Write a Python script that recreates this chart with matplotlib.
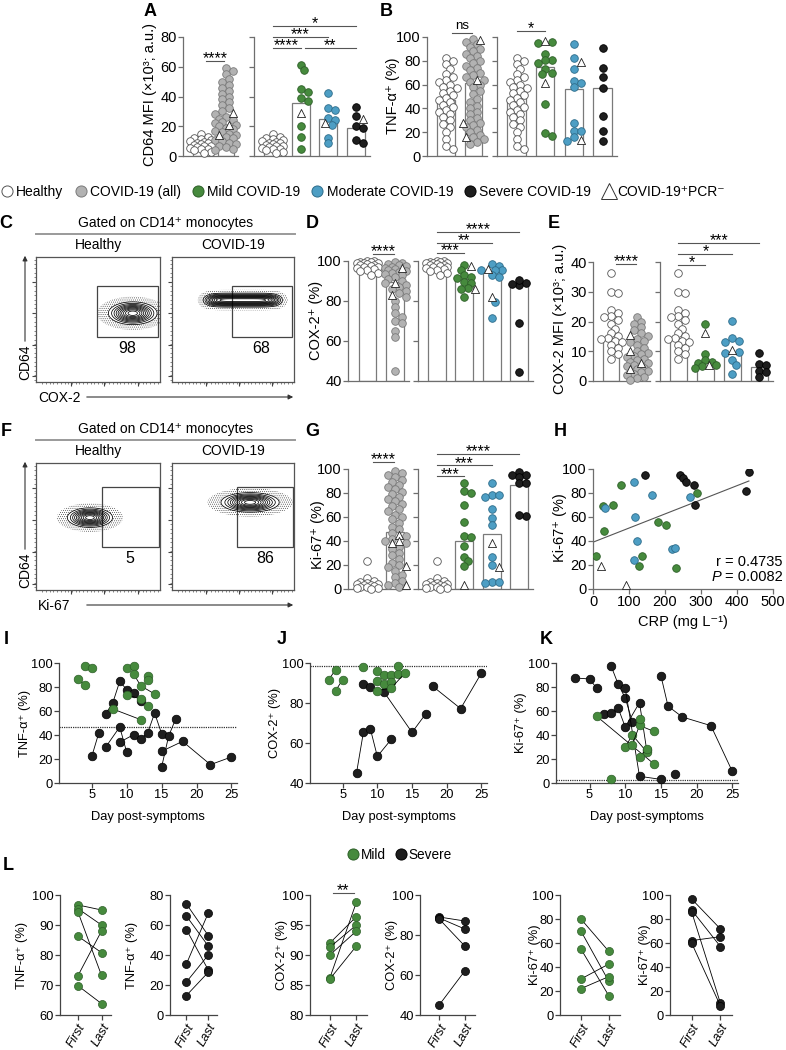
import numpy as np
import matplotlib
matplotlib.use("Agg")
import matplotlib.pyplot as plt
from matplotlib import font_manager
from matplotlib.lines import Line2D
from matplotlib.patches import Rectangle, FancyArrowPatch

# ============================================================
# DATA
# ============================================================
# A - CD64 MFI (x10^3; a.u.)
cd64Healthy = [14.5, 13, 12, 11.5, 11, 10, 9.5, 9, 8.5, 8, 7.5, 7, 6.5, 6, 5.5, 5, 4.5, 4, 3, 2]
cd64All = [59, 57, 55, 52, 50, 48, 46, 44, 42, 40, 38, 36, 34, 32, 30, 28, 26, 25, 24, 23,
           22, 21, 20, 19, 18, 17, 16, 15, 14, 13, 12, 11, 10, 9, 8, 7, 6, 5, 4]
cd64AllTri = [28.7, 21, 14]
cd64Mild, cd64MildTri = [61, 58, 45, 43, 39, 37, 20, 13, 5], [29]
cd64Mod, cd64ModTri = [42.6, 32, 31, 25.5, 24.5, 20.8, 12.3, 8.5], [22]
cd64Sev, cd64SevTri = [33, 27, 20, 19, 11, 8.5], [24.7]
cd64BarsL = [7.4, 20.8]
cd64BarsR = [7.4, 35.6, 24.9, 18.8]

# B - TNF-a+ (%)
tnfHealthy = [82, 80, 77, 73, 69, 66, 64, 62, 60, 58, 57, 55, 53, 51, 49, 47, 45, 43, 41, 39,
              37, 35, 33, 30, 27, 24, 20, 14, 8, 6]
tnfAll = [98, 96, 94, 92, 90, 88, 86, 84, 82, 80, 78, 76, 74, 72, 70, 68, 66, 64, 62, 60, 58,
          55, 52, 48, 45, 42, 40, 37, 35, 32, 30, 28, 26, 24, 22, 20, 18, 16, 14, 12, 10]
tnfAllTri = [97.5, 64, 27.7, 16]
tnfMild, tnfMildTri = [96, 95, 86, 81, 81, 78, 73, 70, 69, 44, 19, 17], [97, 61]
tnfMod, tnfModTri = [94, 82, 73, 63, 61, 58, 27.5, 21, 21, 16, 13], [79, 13.5]
tnfSev, tnfSevTri = [90.5, 74, 66, 57, 33.6, 21, 12.6], []
tnfBarsL = [47, 61]
tnfBarsR = [49, 75, 56, 57]

# D - COX-2+ (%)
coxHealthy = [100, 99.8, 99.6, 99.4, 99.2, 99, 98.8, 98.5, 98.2, 98, 97.6, 97.2, 96.8, 96.4,
              96, 95.5, 95, 94, 93]
coxAll = [99.5, 99, 98.5, 98, 97.5, 97, 96.5, 96, 95.5, 95, 94.5, 94, 93.5, 93, 92, 91, 90,
          89, 88, 87, 86, 85, 84, 82, 80, 77, 74, 72, 70, 69, 65, 62, 45]
coxAllTri = [96.5, 89, 83]
coxMild, coxMildTri = [98, 95.5, 93, 92, 91.5, 89.3, 89, 86.7, 86, 82], [97.5, 86]
coxMod, coxModTri = [98.3, 97.6, 95.5, 95.5, 95.5, 93, 92, 79.3, 71.7], [96, 82]
coxSev, coxSevTri = [88, 88.5, 89, 90.5, 69, 44.6], []
coxBarsL = [98.5, 89.5]
coxBarsR = [98.5, 91, 94.5, 88]

# E - COX-2 MFI (x10^3; a.u.)
coxMfiHealthy = [36.4, 30, 29.5, 23.9, 23, 22, 21.6, 20.6, 19, 17.5, 16, 15, 14.5, 14, 13.5,
                 13, 12, 11, 10, 9, 7.5]
coxMfiAll = [21.5, 20, 19, 18, 17, 16, 15, 14, 13.5, 13, 12, 11, 10, 9.5, 9, 8.5, 8, 7.5, 7,
             6.5, 6, 5.5, 5, 4.5, 4, 3.5, 3, 2.5, 2, 1.5, 1, 0.5]
coxMfiAllTri = [15.5, 10, 6, 4]
coxMfiMild, coxMfiMildTri = [19, 9, 7, 6.5, 6, 5.5, 5, 4.5], [16, 5.5]
coxMfiMod, coxMfiModTri = [20.3, 14.4, 13.4, 13, 9.9, 9.3, 7, 5.4, 2.4], [10.3]
coxMfiSev, coxMfiSevTri = [9.3, 5.7, 5.5, 3.5, 3, 1.2], []
coxMfiBarsL = [14.6, 7]
coxMfiBarsR = [14.6, 6, 9.5, 4.8]

# G - Ki-67+ (%)
kiHealthy = [23, 9, 7, 6, 5, 4.5, 4, 3.5, 3, 2.5, 2, 1.5, 1, 0.5, 0.2]
kiAll = [98, 97, 95, 93, 91, 89, 87, 85, 83, 81, 79, 77, 75, 73, 71, 69, 67, 65, 62, 60, 58,
         55, 52, 50, 47, 44, 42, 40, 38, 35, 33, 30, 28, 25, 22, 20, 18, 15, 12, 10, 7, 5, 3, 2]
kiAllTri = [45, 40, 38, 19, 3]
kiMild, kiMildTri = [88, 82, 80, 70, 56, 44, 43, 36, 27, 23, 19], [3.5]
kiMod, kiModTri = [88.6, 78, 78, 77, 67, 59, 53, 26.4, 20, 6, 6, 5], [38, 18.6]
kiSev, kiSevTri = [97.8, 95, 95, 93.3, 88, 88, 61, 61.5], []
kiBarsL = [4, 47.5]
kiBarsR = [4, 40, 46, 87]

# H - Ki-67+ vs CRP
crpMild = [7, 30, 28, 56, 79, 180, 202, 136, 128, 230, 290]
kiCrpMild = [27.8, 48.6, 69.4, 69.7, 87, 55.8, 53, 27.8, 19.4, 17.5, 80]
crpMod = [32, 114, 165, 117, 123, 114, 219, 227, 270]
kiCrpMod = [67.5, 89, 78.6, 60, 39.7, 24.4, 33.6, 34, 76.7]
crpSev = [145, 243, 250, 257, 281, 282, 433, 424]
kiCrpSev = [95.3, 95.3, 92.5, 89, 87, 70.3, 97.2, 82]
crpTri = [23, 91]
kiCrpTri = [19.4, 3.6]
fitCrp = [0, 433]
fitKi = [39, 90]

# I, J, K - kinetics (day post-symptoms, value) per patient
tnfDayMild = [([3, 4], [86.7, 81.4]), ([4, 5], [97.2, 95.8]), ([8, 12], [61.7, 52.8]),
              ([10, 11], [95.8, 97.8]), ([10, 12, 13], [73.6, 70.0, 64.4]),
              ([11, 12, 14], [90.8, 81.0, 74.2]), ([13], [88.9]), ([13], [86.1])]
tnfDaySev = [([5, 6], [22.2, 41.7]), ([7, 8, 9, 10, 11, 12], [57.8, 66.7, 84.7, 77.8, 75.0, 68.0]),
             ([7, 9, 10], [30.0, 46.7, 25.6]), ([9, 11, 12, 13, 14, 15], [34, 40.3, 36.7, 41.7, 58.3, 41.1]),
             ([15, 16, 17], [13.3, 38.9, 53.3]), ([15, 18, 22, 25], [26.4, 34.7, 15.3, 21.7])]
coxDayMild = [([3, 4], [91.7, 96.7]), ([4, 5], [86.2, 91.7]), ([8], [98.0]),
              ([10, 11, 12, 13], [95.8, 93.8, 93.8, 94.5]), ([10, 11, 12], [91.2, 89.5, 90.3]),
              ([10, 12, 14], [86.2, 87.5, 95.0]), ([13], [98.7])]
coxDaySev = [([7, 8, 9, 10, 12], [45, 65.5, 67, 53.3, 61.8]),
             ([8, 9, 11, 15, 17], [89.3, 88, 85.3, 65.3, 74.7]), ([18, 22, 25], [88.3, 77.2, 95])]
kiDayMild = [([6, 14], [55.6, 16]), ([8], [3.5]), ([10, 11, 13], [30, 40, 26]),
             ([11, 12, 14], [32, 48, 43]), ([12], [53.6]), ([12, 13], [22, 28])]
kiDaySev = [([3, 5, 6], [87.5, 86.7, 79.0]), ([7, 8], [57.5, 58.5]),
            ([8, 9, 10, 11], [97.8, 82.5, 70.8, 51.0]), ([9, 10, 12, 13], [62.5, 46.7, 67.0, 27.8]),
            ([10, 12, 15], [79.0, 5.6, 3.0]), ([15, 16, 18, 22, 25], [89.4, 64.0, 55.0, 47.8, 9.7]),
            ([17], [7.5])]
tnfRef, coxRef, kiRef = 47, 98.5, 2.5

# L - first vs last sample
tnfFirstMild, tnfLastMild = [96.7, 95.5, 94.5, 86.3, 73, 69.8], [95, 90, 73.2, 80.8, 88, 63.8]
tnfFirstSev, tnfLastSev = [74, 66, 57, 34, 22, 13], [53, 46, 30, 68, 40, 28.5]
coxFirstMild, coxLastMild = [92, 91.3, 90, 86.2, 86], [96.4, 95, 94, 98.8, 91.5]
coxFirstSev, coxLastSev = [89, 88.5, 88, 45], [87, 83, 74.5, 62]
kiFirstMild, kiLastMild = [80, 70, 55, 30, 22], [53, 28, 16, 42.5, 32]
kiFirstSev, kiLastSev = [96.7, 87.5, 86, 62, 60], [71.7, 57, 9.7, 65.3, 7.5]

# flow plots: centre x, centre y, width x, width y, shape exponent in x
flowCoxHealthy = (0.78, 0.55, 0.14, 0.065, 2)
flowCoxCovid = (0.58, 0.655, 0.29, 0.04, 6)
flowKiHealthy = (0.435, 0.57, 0.13, 0.055, 2)
flowKiCovid = (0.64, 0.69, 0.17, 0.055, 2)
gateCox = (0.49, 0.36, 0.49, 0.41)
gateKi = (0.53, 0.34, 0.46, 0.47)
pctCox = ["98", "68"]
pctKi = ["5", "86"]

# ============================================================
# STYLE
# ============================================================
W, H = 786, 1050
plt.rcParams["font.family"] = ["Liberation Sans", "DejaVu Sans"]
plt.rcParams["hatch.linewidth"] = 0.35
plt.rcParams["hatch.color"] = "#333333"

fontNames = {f.name for f in font_manager.fontManager.ttflist}
if "Liberation Sans Narrow" in fontNames:
    NARROW, FSN = ["Liberation Sans Narrow", "DejaVu Sans"], 10.5
else:
    NARROW, FSN = ["Liberation Sans", "DejaVu Sans"], 9.3

AX = "#6e6e6e"
COLORS = {
    "healthy": ("white", "#555555"),
    "all": ("#b2b2b2", "#7a7a7a"),
    "mild": ("#468a3d", "#2d5f28"),
    "mod": ("#4d9ec4", "#2d6c8a"),
    "sev": ("#1e1e1e", "#000000"),
}
FS = 9.5

# rows 4 and 5 (pixel rows)
KIN_TOP, KIN_BOT = 663, 783
PAIR_TOP, PAIR_BOT = 895, 1015

fig = plt.figure(figsize=(W / 100, H / 100), dpi=100)


def axPx(x0, x1, ytop, ybot):
    return fig.add_axes([x0 / W, 1 - ybot / H, (x1 - x0) / W, (ybot - ytop) / H])


def txt(x, y, s, **kw):
    kw.setdefault("ha", "center")
    kw.setdefault("va", "center")
    kw.setdefault("fontsize", FS)
    fig.text(x / W, 1 - y / H, s, **kw)


def hline(x0, x1, y, color="#9a9a9a", lw=1.4):
    fig.add_artist(Line2D([x0 / W, x1 / W], [1 - y / H] * 2, transform=fig.transFigure, color=color, lw=lw))


def arrow(x0, y0, x1, y1):
    fig.add_artist(FancyArrowPatch((x0 / W, 1 - y0 / H), (x1 / W, 1 - y1 / H), transform=fig.transFigure,
                                   arrowstyle="-|>", mutation_scale=7, lw=0.8, color="#333333"))


def swarmOffsets(vals, ppy, ppx, d=7.0):
    vals = np.asarray(vals, float)
    order = np.argsort(-vals)
    placed, offs = [], np.zeros(len(vals))
    cands = [0] + [s * k for k in range(1, 4) for s in (1, -1)]
    step = d * 0.5
    for i in order:
        y = vals[i] * ppy
        best, score = 0.0, -1.0
        for k in cands:
            x = k * step
            dist = min([np.hypot(x - px, y - py) for px, py in placed] or [1e9])
            if dist >= d * 0.8:
                best = x
                break
            if dist > score:
                best, score = x, dist
        placed.append((best, y))
        offs[i] = best
    return offs / ppx


# ============================================================
# BAR + DOT PANELS (A, B, D, E, G)
# ============================================================
XLIM_L, XLIM_R = (-0.7, 1.5), (-0.68, 3.5)


def barPanel(xl, xr, ytop, ybot, ylim, yticks, leftSets, rightSets, barsL, barsR):
    axes = []
    for (x0, x1), sets, bars, xlim in [(xl, leftSets, barsL, XLIM_L), (xr, rightSets, barsR, XLIM_R)]:
        ax = axPx(x0, x1, ytop, ybot)
        ax.set_xlim(*xlim)
        ax.set_ylim(*ylim)
        ppy = (ybot - ytop) / (ylim[1] - ylim[0])
        ppx = (x1 - x0) / (xlim[1] - xlim[0])
        for i, ((circ, tri, key), bar) in enumerate(zip(sets, bars)):
            face, edge = COLORS[key]
            vals = list(circ) + list(tri)
            offs = swarmOffsets(np.array(vals) - ylim[0], ppy, ppx)
            ax.bar(i, bar - ylim[0], bottom=ylim[0], width=0.64, color="white", edgecolor="#7a7a7a",
                   linewidth=0.9, zorder=1)
            n = len(circ)
            ax.scatter(i + offs[:n], circ, s=30, color=face, edgecolor=edge, linewidth=0.6, zorder=3, clip_on=False)
            if tri:
                ax.scatter(i + offs[n:], tri, s=34, marker="^", color="white", edgecolor="#222222",
                           linewidth=0.6, zorder=4, clip_on=False)
        for s in ["top", "right"]:
            ax.spines[s].set_visible(False)
        for s in ["left", "bottom"]:
            ax.spines[s].set_color(AX)
            ax.spines[s].set_linewidth(0.9)
        ax.set_xticks([])
        ax.set_yticks(yticks)
        ax.tick_params(axis="y", length=3.5, width=0.9, color=AX, labelsize=FS + 1, pad=1)
        if axes:
            ax.set_yticklabels([])
        axes.append(ax)
    return axes


def sig(ax, xa, xb, y, label):
    ax.plot([xa, xb], [y, y], color="#555555", lw=0.8, clip_on=False, zorder=5)
    if label == "ns":
        ax.annotate(label, ((xa + xb) / 2, y), xytext=(0, 0.5), textcoords="offset points", ha="center",
                    va="bottom", fontsize=FS, annotation_clip=False)
    else:
        ax.annotate(label, ((xa + xb) / 2, y), xytext=(0, -4), textcoords="offset points", ha="center",
                    va="bottom", fontsize=11.5, annotation_clip=False)


aL, aR = barPanel((183, 238), (254, 370), 37, 156, (0, 80), [0, 20, 40, 60, 80],
                  [(cd64Healthy, [], "healthy"), (cd64All, cd64AllTri, "all")],
                  [(cd64Healthy, [], "healthy"), (cd64Mild, cd64MildTri, "mild"),
                   (cd64Mod, cd64ModTri, "mod"), (cd64Sev, cd64SevTri, "sev")], cd64BarsL, cd64BarsR)
sig(aL, 0.2, 0.95, 63.9, "****")
sig(aR, 0, 3, 87.4, "*")
sig(aR, 0, 2, 80, "***")
sig(aR, 0, 1, 72.6, "****")
sig(aR, 1.15, 3, 72.6, "**")

bL, bR = barPanel((427, 487), (497, 617), 37, 156, (0, 100), [0, 20, 40, 60, 80, 100],
                  [(tnfHealthy, [], "healthy"), (tnfAll, tnfAllTri, "all")],
                  [(tnfHealthy, [], "healthy"), (tnfMild, tnfMildTri, "mild"),
                   (tnfMod, tnfModTri, "mod"), (tnfSev, tnfSevTri, "sev")], tnfBarsL, tnfBarsR)
sig(bL, 0.2, 0.95, 103.4, "ns")
sig(bR, 0, 1, 105, "*")

dL, dR = barPanel((348, 409), (418, 533), 261, 381, (40, 100), [40, 60, 80, 100],
                  [(coxHealthy, [], "healthy"), (coxAll, coxAllTri, "all")],
                  [(coxHealthy, [], "healthy"), (coxMild, coxMildTri, "mild"),
                   (coxMod, coxModTri, "mod"), (coxSev, coxSevTri, "sev")], coxBarsL, coxBarsR)
sig(dL, 0.2, 0.95, 103.5, "****")
sig(dR, 0, 1, 104, "***")
sig(dR, 0, 2, 109, "**")
sig(dR, 0, 3, 114.5, "****")

eL, eR = barPanel((593, 650), (660, 773), 262, 381, (0, 40), [0, 10, 20, 30, 40],
                  [(coxMfiHealthy, [], "healthy"), (coxMfiAll, coxMfiAllTri, "all")],
                  [(coxMfiHealthy, [], "healthy"), (coxMfiMild, coxMfiMildTri, "mild"),
                   (coxMfiMod, coxMfiModTri, "mod"), (coxMfiSev, coxMfiSevTri, "sev")], coxMfiBarsL, coxMfiBarsR)
sig(eL, 0.2, 0.95, 39.3, "****")
sig(eR, 0, 1, 39, "*")
sig(eR, 0, 2, 42.7, "*")
sig(eR, 0, 3, 46.4, "***")

gL, gR = barPanel((348, 409), (418, 533), 469, 589, (0, 100), [0, 20, 40, 60, 80, 100],
                  [(kiHealthy, [], "healthy"), (kiAll, kiAllTri, "all")],
                  [(kiHealthy, [], "healthy"), (kiMild, kiMildTri, "mild"),
                   (kiMod, kiModTri, "mod"), (kiSev, kiSevTri, "sev")], kiBarsL, kiBarsR)
sig(gL, 0.2, 0.95, 105.8, "****")
sig(gR, 0, 1, 94, "***")
sig(gR, 0, 2, 103, "***")
sig(gR, 0, 3, 112.5, "****")

txt(150, 95, "CD64 MFI (×10³; a.u.)", rotation=90, fontsize=FS + 1)
txt(393, 96, "TNF-α⁺ (%)", rotation=90, fontsize=FS + 1)
txt(316, 320, "COX-2⁺ (%)", rotation=90, fontsize=FS + 1)
txt(560, 319, "COX-2 MFI (×10³; a.u.)", rotation=90, fontsize=FS + 1)
txt(318, 535, "Ki-67⁺ (%)", rotation=90, fontsize=FS + 1)

# ============================================================
# LEGEND
# ============================================================
handles = [Line2D([], [], ls="", marker="o", ms=8, mfc=COLORS[k][0], mec=COLORS[k][1], mew=0.7)
           for k in ["healthy", "all", "mild", "mod", "sev"]]
handles.append(Line2D([], [], ls="", marker="^", ms=11, mfc="white", mec="#333333", mew=0.7))
fig.legend(handles, ["Healthy", "COVID-19 (all)", "Mild COVID-19", "Moderate COVID-19", "Severe COVID-19",
                     "COVID-19⁺PCR⁻"], loc="center left", bbox_to_anchor=(0.0, 1 - 192 / H), ncol=6,
           frameon=False, fontsize=FS + 0.5, handletextpad=0.15, columnspacing=0.75, handlelength=1.0,
           borderaxespad=0, borderpad=0)

# ============================================================
# FLOW PLOTS (C, F)
# ============================================================
gx, gy = np.meshgrid(np.linspace(0, 1, 400), np.linspace(0, 1, 400))


def flowPanel(x0, x1, ytop, ybot, shape, gate, pct):
    ax = axPx(x0, x1, ytop, ybot)
    cx, cy, sx, sy, p = shape
    z = np.exp(-np.abs((gx - cx) / sx) ** p - ((gy - cy) / sy) ** 2)
    ax.contourf(gx, gy, z, levels=[0.015, 0.14], colors="none", hatches=["........"])
    ax.contour(gx, gy, z, levels=np.linspace(0.14, 0.93, 10), colors="black", linewidths=0.55)
    ax.add_patch(Rectangle(gate[:2], gate[2], gate[3], fill=False, ec="#444444", lw=0.9))
    ax.text(gate[0] + gate[2] / 2, gate[1] - 0.09, pct, ha="center", va="center", fontsize=FS + 2)
    ax.set_xlim(0, 1)
    ax.set_ylim(0, 1)
    for s in ax.spines.values():
        s.set_color("#555555")
        s.set_linewidth(0.9)
    ax.set_xticks([0.28, 0.55, 0.82])
    ax.set_yticks([0.05, 0.3, 0.55, 0.8])
    ax.set_xticks(np.linspace(0.05, 0.98, 32), minor=True)
    ax.set_yticks(np.linspace(0.02, 0.98, 28), minor=True)
    ax.tick_params(which="major", length=3, width=0.8, color="#444444", labelleft=False, labelbottom=False)
    ax.tick_params(which="minor", length=1.5, width=0.5, color="#555555")
    return ax


for y0, y1, shapes, gate, pcts, xname in [
        (257, 382, (flowCoxHealthy, flowCoxCovid), gateCox, pctCox, "COX-2"),
        (463, 590, (flowKiHealthy, flowKiCovid), gateKi, pctKi, "Ki-67")]:
    top = y0 - 34
    txt(166, top, "Gated on CD14⁺ monocytes", fontsize=FS + 0.5)
    hline(36, 295, top + 11)
    txt(98, top + 22, "Healthy", fontsize=FS + 0.5)
    txt(233, top + 22, "COVID-19", fontsize=FS + 0.5)
    flowPanel(36, 160, y0, y1, shapes[0], gate, pcts[0])
    flowPanel(172, 294, y0, y1, shapes[1], gate, pcts[1])
    txt(25, y1 - 20, "CD64", rotation=90, fontsize=FS + 0.5)
    arrow(25, y1 - 38, 25, y0 - 4)
    txt(38, y1 + 16, xname, ha="left", fontsize=FS + 0.5)
    arrow(84, y1 + 15, 296, y1 + 15)

# ============================================================
# H - CORRELATION
# ============================================================
axH = axPx(593, 773, 469, 589)
axH.plot(fitCrp, fitKi, color="#555555", lw=0.8, zorder=1)
axH.scatter(crpMild, kiCrpMild, s=30, color=COLORS["mild"][0], edgecolor=COLORS["mild"][1], lw=0.6, zorder=3)
axH.scatter(crpMod, kiCrpMod, s=30, color=COLORS["mod"][0], edgecolor=COLORS["mod"][1], lw=0.6, zorder=3)
axH.scatter(crpSev, kiCrpSev, s=30, color=COLORS["sev"][0], edgecolor="black", lw=0.6, zorder=3)
axH.scatter(crpTri, kiCrpTri, s=34, marker="^", color="white", edgecolor="#222222", lw=0.6, zorder=3)
axH.set_xlim(0, 500)
axH.set_ylim(0, 100)
axH.set_xticks([0, 100, 200, 300, 400, 500])
axH.set_yticks([0, 20, 40, 60, 80, 100])
for s in ["top", "right"]:
    axH.spines[s].set_visible(False)
for s in ["left", "bottom"]:
    axH.spines[s].set_color(AX)
    axH.spines[s].set_linewidth(0.9)
axH.tick_params(length=3.5, width=0.9, color=AX, labelsize=FS + 1, pad=1)
txt(560, 528, "Ki-67⁺ (%)", rotation=90, fontsize=FS + 1)
txt(683, 622, "CRP (mg L⁻¹)", fontsize=FS + 1)
txt(721, 562, "r", ha="right", fontsize=FS + 1)
txt(721, 577, "P", ha="right", fontsize=FS + 1, style="italic")
txt(725, 562, "= 0.4735", ha="left", fontsize=FS + 1)
txt(725, 577, "= 0.0082", ha="left", fontsize=FS + 1)

# ============================================================
# I, J, K - KINETICS
# ============================================================


def styleNarrow(ax):
    for s in ["top", "right"]:
        ax.spines[s].set_visible(False)
    for s in ["left", "bottom"]:
        ax.spines[s].set_color("#444444")
        ax.spines[s].set_linewidth(0.9)
    ax.tick_params(length=3.5, width=0.9, color="#444444", labelsize=FSN, pad=1)
    for lab in ax.get_xticklabels() + ax.get_yticklabels():
        lab.set_family(NARROW)


def timePanel(x0, x1, ylim, yticks, mild, severe, ref, ylab, ylabx):
    ax = axPx(x0, x1, KIN_TOP, KIN_BOT)
    ax.axhline(ref, color="#333333", lw=0.9, ls=(0, (1, 0.8)), zorder=1)
    for days, vals in severe:
        ax.plot(days, vals, color="black", lw=0.6, marker="o", ms=6.2, mfc=COLORS["sev"][0], mec="black",
                mew=0.5, zorder=3, clip_on=False)
    for days, vals in mild:
        ax.plot(days, vals, color="black", lw=0.6, marker="o", ms=6.2, mfc=COLORS["mild"][0],
                mec=COLORS["mild"][1], mew=0.5, zorder=4, clip_on=False)
    ax.set_xlim(0.3, 25.8)
    ax.set_ylim(*ylim)
    ax.set_xticks([5, 10, 15, 20, 25])
    ax.set_yticks(yticks)
    styleNarrow(ax)
    txt(ylabx, (KIN_TOP + KIN_BOT) / 2, ylab, rotation=90, fontsize=FSN, family=NARROW)
    txt((x0 + x1) / 2, KIN_BOT + 34, "Day post-symptoms", fontsize=FSN, family=NARROW)
    return ax


timePanel(59, 237, (0, 100), [0, 20, 40, 60, 80, 100], tnfDayMild, tnfDaySev, tnfRef, "TNF-α⁺ (%)", 25)
timePanel(310, 487, (40, 100), [40, 60, 80, 100], coxDayMild, coxDaySev, coxRef, "COX-2⁺ (%)", 275)
timePanel(556, 738, (0, 100), [0, 20, 40, 60, 80, 100], kiDayMild, kiDaySev, kiRef, "Ki-67⁺ (%)", 521)

# ============================================================
# L - FIRST VS LAST
# ============================================================


def pairPanel(x0, x1, ylim, yticks, first, last, key, ylab, ylabx):
    ax = axPx(x0, x1, PAIR_TOP, PAIR_BOT)
    face, edge = COLORS[key]
    for a, b in zip(first, last):
        ax.plot([0, 1], [a, b], color="black", lw=0.6, marker="o", ms=5.8, mfc=face, mec=edge, mew=0.5,
                clip_on=False)
    ax.set_xlim(-0.75, 1.4)
    ax.set_ylim(*ylim)
    ax.set_yticks(yticks)
    ax.set_xticks([0, 1])
    ax.set_xticklabels(["First", "Last"], rotation=60, ha="right", va="top", rotation_mode="anchor",
                       style="italic")
    styleNarrow(ax)
    txt(ylabx, (PAIR_TOP + PAIR_BOT) / 2, ylab, rotation=90, fontsize=FSN, family=NARROW)
    return ax


pairPanel(60, 111, (60, 100), [60, 70, 80, 90, 100], tnfFirstMild, tnfLastMild, "mild", "TNF-α⁺ (%)", 22)
pairPanel(170, 217, (0, 80), [0, 20, 40, 60, 80], tnfFirstSev, tnfLastSev, "sev", "TNF-α⁺ (%)", 132)
l3 = pairPanel(310, 367, (80, 100), [80, 85, 90, 95, 100], coxFirstMild, coxLastMild, "mild", "COX-2⁺ (%)", 282)
pairPanel(420, 475, (40, 100), [40, 60, 80, 100], coxFirstSev, coxLastSev, "sev", "COX-2⁺ (%)", 392)
pairPanel(560, 620, (0, 100), [0, 20, 40, 60, 80, 100], kiFirstMild, kiLastMild, "mild", "Ki-67⁺ (%)", 535)
pairPanel(670, 732, (0, 100), [0, 20, 40, 60, 80, 100], kiFirstSev, kiLastSev, "sev", "Ki-67⁺ (%)", 645)
sig(l3, 0.1, 0.9, 100.4, "**")

lh = [Line2D([], [], ls="", marker="o", ms=8, mfc=COLORS[k][0], mec=COLORS[k][1], mew=0.7) for k in ["mild", "sev"]]
fig.legend(lh, ["Mild", "Severe"], loc="center", bbox_to_anchor=(399 / W, 1 - 855 / H), ncol=2, frameon=False,
           prop={"family": NARROW, "size": FSN + 0.5}, handletextpad=0.1, columnspacing=0.6, handlelength=1.0,
           borderaxespad=0, borderpad=0)

# ============================================================
# PANEL LETTERS
# ============================================================
for letter, x, y in [("A", 150, 11), ("B", 386, 11), ("C", 6, 223), ("D", 312, 223), ("E", 554, 223),
                     ("F", 6, 431), ("G", 312, 431), ("H", 560, 431), ("I", 6, 640), ("J", 282, 640),
                     ("K", 546, 640), ("L", 8, 865)]:
    txt(x, y, letter, fontsize=13, fontweight="bold")

fig.savefig("out.png", dpi=100)
